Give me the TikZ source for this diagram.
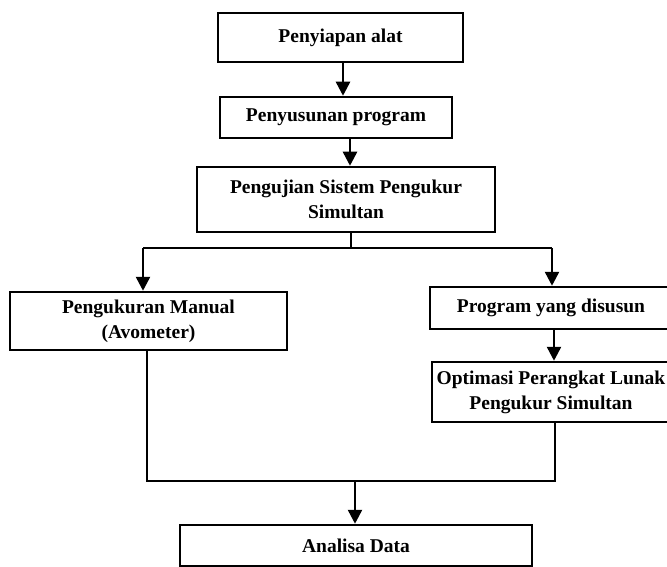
\documentclass[tikz,border=0pt]{standalone}
\usepackage{fontspec}
\setmainfont{Liberation Serif}
\usetikzlibrary{arrows.meta}
\begin{document}
\begin{tikzpicture}[x=1pt,y=-1pt,
  box/.style={draw, line width=2.5pt, inner sep=0pt, align=center,
    font=\bfseries\fontsize{19.5}{25}\selectfont},
  link/.style={line width=2.5pt},
  arr/.style={line width=2.5pt, -{Triangle[length=14pt,width=14pt]}}]
\useasboundingbox (0,0) rectangle (667,567);
\fill[white] (0,0) rectangle (667,567);
\node[box, minimum width=245pt, minimum height=49pt] (b1) at (340.5,37.5) {Penyiapan alat};
\node[box, minimum width=232pt, minimum height=41pt] (b2) at (336,117.5) {Penyusunan program};
\node[box, minimum width=298pt, minimum height=65pt] (b3) at (346,199.5) {Pengujian Sistem Pengukur\\Simultan};
\node[box, minimum width=277pt, minimum height=58pt] (b4) at (148.5,321) {Pengukuran Manual\\(Avometer)};
\node[box, minimum width=242pt, minimum height=42pt] (b5) at (551,308) {Program yang disusun};
\node[box, minimum width=238pt, minimum height=60pt] (b6) at (551,392) {Optimasi Perangkat Lunak\\Pengukur Simultan};
\node[box, minimum width=352pt, minimum height=41pt] (b7) at (356,545.5) {Analisa Data};
% arrow x positions
\coordinate (x12) at (343,0);
\coordinate (x23) at (350,0);
\coordinate (j1) at (351,248);
\coordinate (jl) at (143,248);
\coordinate (jr) at (552,248);
\coordinate (x56) at (554,0);
\coordinate (bl) at (147,481);
\coordinate (br) at (555,481);
\coordinate (j2) at (355,481);
\draw[arr] (b1.south -| x12) -- (b2.north -| x12);
\draw[arr] (b2.south -| x23) -- (b3.north -| x23);
\draw[link] (b3.south -| j1) -- (j1);
\draw[link] (jl) -- (jr);
\draw[arr] (jl) -- (b4.north -| jl);
\draw[arr] (jr) -- (b5.north -| jr);
\draw[arr] (b5.south -| x56) -- (b6.north -| x56);
\draw[link] (b4.south -| bl) -- (bl) -- (br) -- (b6.south -| br);
\draw[arr] (j2) -- (b7.north -| j2);
\end{tikzpicture}
\end{document}
